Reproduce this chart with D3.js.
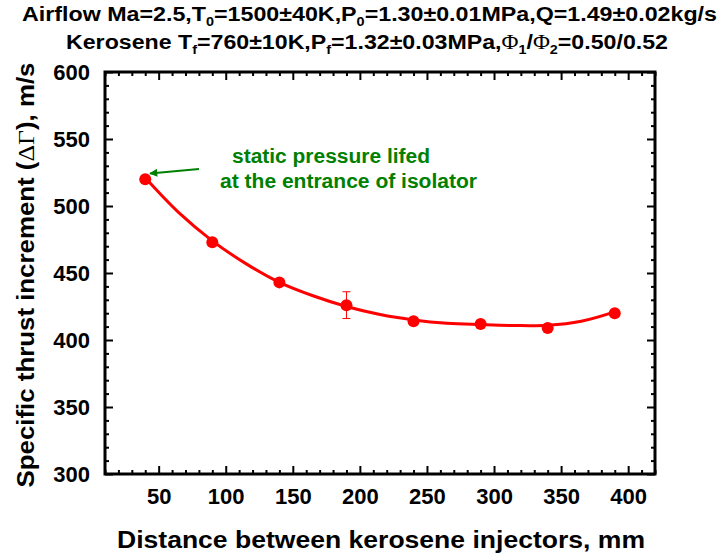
<!DOCTYPE html>
<html><head><meta charset="utf-8">
<script src="https://cdn.jsdelivr.net/npm/d3@7"></script>
<style>body{margin:0;background:#fff}svg{display:block}text{font-family:"Liberation Sans",Arial,sans-serif;font-weight:bold}</style>
</head><body>
<script>
const distances = [40, 90, 140, 190, 240, 290, 340, 390];
const thrust = [520, 473, 443, 426, 414, 412, 409, 420];
const errLow = [null, null, null, 416, null, null, null, null];
const errHigh = [null, null, null, 436, null, null, null, null];
const fitX = [40, 65, 90, 115, 140, 165, 190, 215, 240, 265, 290, 315, 340, 365, 390];
const fitY = [521, 495, 474, 457, 443, 433, 425, 419, 415, 412.5, 411.5, 410.8, 411, 414, 421];
const xTicks = [50, 100, 150, 200, 250, 300, 350, 400];
const yTicks = [300, 350, 400, 450, 500, 550, 600];

const W = 719, H = 554;
const L = 105, R = 655, T = 72, B = 474;
const svg = d3.select("body").append("svg").attr("width", W).attr("height", H);
const x = d3.scaleLinear().domain([10, 420]).range([L, R]);
const y = d3.scaleLinear().domain([300, 600]).range([B, T]);

function styleAxis(g) {
  g.select(".domain").remove();
  g.selectAll(".tick line").attr("stroke", "#000").attr("stroke-width", 2);
  g.selectAll("text").attr("font-size", 22).attr("fill", "#000").attr("font-family", '"Liberation Sans",Arial,sans-serif').attr("font-weight", "bold");
}
function noText(g) { styleAxis(g); g.selectAll("text").remove(); }
const minorX = d3.range(10, 421, 10).filter(v => v % 50 !== 0);
const minorY = d3.range(300, 601, 10).filter(v => v % 50 !== 0);
// bottom
svg.append("g").attr("transform", `translate(0,${B})`).call(d3.axisBottom(x).tickValues(minorX).tickSize(-4)).call(noText);
svg.append("g").attr("transform", `translate(0,${B})`).call(d3.axisBottom(x).tickValues(xTicks).tickSizeInner(-8).tickSizeOuter(0).tickPadding(14).tickFormat(d3.format("d"))).call(styleAxis);
// top
svg.append("g").attr("transform", `translate(0,${T})`).call(d3.axisTop(x).tickValues(minorX).tickSize(-4)).call(noText);
svg.append("g").attr("transform", `translate(0,${T})`).call(d3.axisTop(x).tickValues(xTicks).tickSize(-8)).call(noText);
// left
svg.append("g").attr("transform", `translate(${L},0)`).call(d3.axisLeft(y).tickValues(minorY).tickSize(-4)).call(noText);
svg.append("g").attr("transform", `translate(${L},0)`).call(d3.axisLeft(y).tickValues(yTicks).tickSizeInner(-8).tickSizeOuter(0).tickPadding(15).tickFormat(d3.format("d"))).call(styleAxis);
// right
svg.append("g").attr("transform", `translate(${R},0)`).call(d3.axisRight(y).tickValues(minorY).tickSize(-4)).call(noText);
svg.append("g").attr("transform", `translate(${R},0)`).call(d3.axisRight(y).tickValues(yTicks).tickSize(-8)).call(noText);

svg.append("rect").attr("x", L).attr("y", T).attr("width", R - L).attr("height", B - T)
  .attr("fill", "none").attr("stroke", "#000").attr("stroke-width", 3);

// fit curve
const line = d3.line().x((d, i) => x(fitX[i])).y(d => y(d)).curve(d3.curveCatmullRom);
svg.append("path").attr("d", line(fitY)).attr("fill", "none").attr("stroke", "#ff0000").attr("stroke-width", 3);

// error bars
distances.forEach((d, i) => {
  if (errLow[i] == null) return;
  const g = svg.append("g").attr("stroke", "#ff0000").attr("stroke-width", 1);
  g.append("line").attr("x1", x(d)).attr("x2", x(d)).attr("y1", y(errLow[i])).attr("y2", y(errHigh[i]));
  g.append("line").attr("x1", x(d) - 4).attr("x2", x(d) + 4).attr("y1", y(errLow[i])).attr("y2", y(errLow[i]));
  g.append("line").attr("x1", x(d) - 4).attr("x2", x(d) + 4).attr("y1", y(errHigh[i])).attr("y2", y(errHigh[i]));
});
// points
svg.selectAll("circle.pt").data(thrust).enter().append("circle").attr("class", "pt")
  .attr("cx", (d, i) => x(distances[i])).attr("cy", d => y(d)).attr("r", 6).attr("fill", "#ff0000");

// annotation
const green = "#008000";
svg.append("defs").append("marker").attr("id", "ah").attr("viewBox", "0 0 10 10").attr("refX", 9).attr("refY", 5)
  .attr("markerWidth", 5).attr("markerHeight", 4).attr("markerUnits", "strokeWidth").attr("orient", "auto")
  .append("path").attr("d", "M0,0L10,5L0,10z").attr("fill", green);
svg.append("line").attr("x1", 199).attr("y1", 169).attr("x2", 150).attr("y2", 173.5)
  .attr("stroke", green).attr("stroke-width", 2).attr("marker-end", "url(#ah)");
svg.append("text").attr("x", 232).attr("y", 163).attr("font-size", 20).attr("fill", green)
  .attr("textLength", 198).attr("lengthAdjust", "spacingAndGlyphs").text("static pressure lifed");
svg.append("text").attr("x", 220).attr("y", 188).attr("font-size", 20).attr("fill", green)
  .attr("textLength", 257).attr("lengthAdjust", "spacingAndGlyphs").text("at the entrance of isolator");

// titles
function rich(t, parts, fs) {
  let shift = 0;
  parts.forEach(p => {
    const ts = t.append("tspan");
    if (p[1] === "sub") {
      ts.attr("font-size", fs * 0.62).attr("dy", 5 - shift).text(p[0]);
      shift = 5;
    } else {
      ts.attr("dy", -shift).text(p[0]);
      shift = 0;
      if (p[1] === "sym") ts.attr("font-family", '"Liberation Serif","Times New Roman",serif').attr("font-weight", "normal");
    }
  });
}
const t1 = svg.append("text").attr("x", 22).attr("y", 21).attr("font-size", 20).attr("fill", "#000")
  .attr("textLength", 695).attr("lengthAdjust", "spacingAndGlyphs");
rich(t1, [["Airflow Ma=2.5,T"], ["0", "sub"], ["=1500\u00b140K,P"], ["0", "sub"], ["=1.30\u00b10.01MPa,Q=1.49\u00b10.02kg/s"]], 20);
const t2 = svg.append("text").attr("x", 66).attr("y", 49).attr("font-size", 20).attr("fill", "#000")
  .attr("textLength", 602).attr("lengthAdjust", "spacingAndGlyphs");
rich(t2, [["Kerosene T"], ["f", "sub"], ["=760\u00b110K,P"], ["f", "sub"], ["=1.32\u00b10.03MPa,"], ["\u03a6", "sym"], ["1", "sub"], ["/"], ["\u03a6", "sym"], ["2", "sub"], ["=0.50/0.52"]], 20);

// axis labels
svg.append("text").attr("x", 381).attr("y", 548).attr("text-anchor", "middle").attr("font-size", 23).attr("fill", "#000")
  .attr("textLength", 528).attr("lengthAdjust", "spacingAndGlyphs").text("Distance between kerosene injectors, mm");
const yl = svg.append("text").attr("transform", "translate(34,275) rotate(-90)").attr("text-anchor", "middle").attr("font-size", 24).attr("fill", "#000")
  .attr("textLength", 425).attr("lengthAdjust", "spacingAndGlyphs");
yl.append("tspan").text("Specific thrust increment (");
yl.append("tspan").attr("font-family", '"Liberation Serif","Times New Roman",serif').attr("font-weight", "normal").text("\u0394\u0393");
yl.append("tspan").text("), m/s");
</script>
</body></html>
